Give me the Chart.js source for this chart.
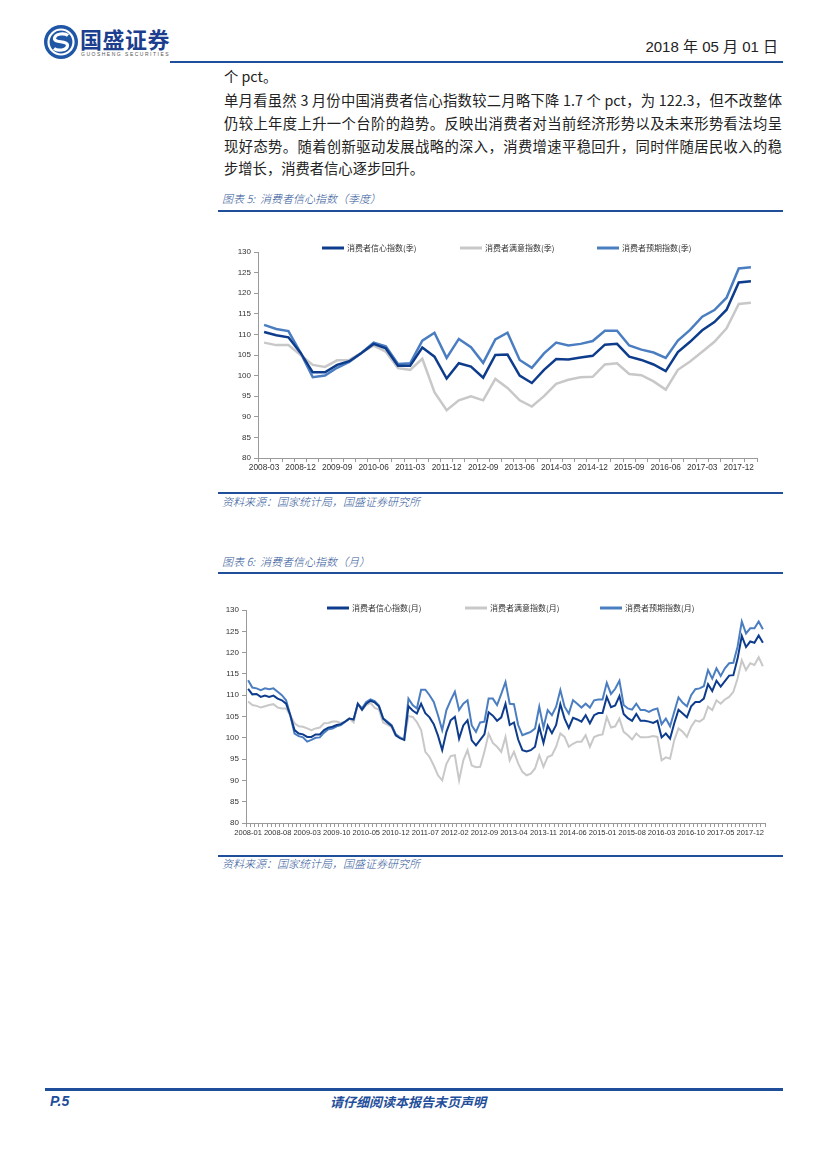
<!DOCTYPE html>
<html>
<head>
<meta charset="utf-8">
<script src="https://cdn.jsdelivr.net/npm/chart.js@4.4.1/dist/chart.umd.min.js"></script>
<style>
  body { margin: 0; background: #fff; }
  #page { position: relative; width: 827px; height: 1169px; background: #fff; overflow: hidden;
          font-family: "Noto Sans CJK SC", "Liberation Sans", sans-serif; color: #222; }
  .abs { position: absolute; }
  .rule { position: absolute; background: #1F4E9A; }
  .para { position: absolute; left: 224px; width: 558px; height: 23px; line-height: 23px; font-size: 14.3px;
          text-align: justify; text-align-last: justify; white-space: nowrap; }
  .para.last { text-align-last: left; }
  .cap { position: absolute; left: 222px; font-size: 11px; font-style: italic; font-weight: 300; color: #2F5597; line-height: 14px; }
  canvas { position: absolute; }
</style>
</head>
<body>
<div id="page">
  <svg class="abs" style="left:43px;top:24px" width="36" height="36" viewBox="0 0 36 36">
    <circle cx="18" cy="18" r="17" fill="#1F56A6"/>
    <circle cx="18" cy="18" r="12.5" fill="none" stroke="#fff" stroke-width="2.2"/>
    <path d="M25 11.5 C22 9 12 9 11.5 14.5 C11 19 25 16.5 24.5 21.5 C24 27 14 27 11 24.5" fill="none" stroke="#fff" stroke-width="3.2"/>
  </svg>
  <div class="abs" style="left:80px;top:25px;font-size:22px;font-weight:bold;color:#1B3E8E;line-height:26px;letter-spacing:0.5px">国盛证券</div>
  <div class="abs" style="left:81px;top:51px;font-size:5px;letter-spacing:1.5px;color:#555;line-height:6px;font-family:'Liberation Sans'">GUOSHENG SECURITIES</div>
  <div class="abs" style="right:49px;top:37px;font-size:15px;line-height:20px;color:#222;font-family:'Liberation Sans Narrow','Liberation Sans','Noto Sans CJK SC'">2018 年 05 月 01 日</div>
  <div class="rule" style="left:170px;top:61px;width:613px;height:2px"></div>

  <div class="para last" style="top:64px">个 pct。</div>
  <div class="para" style="top:88px">单月看虽然 3 月份中国消费者信心指数较二月略下降 1.7 个 pct，为 122.3，但不改整体</div>
  <div class="para" style="top:111px">仍较上年度上升一个台阶的趋势。反映出消费者对当前经济形势以及未来形势看法均呈</div>
  <div class="para" style="top:134px">现好态势。随着创新驱动发展战略的深入，消费增速平稳回升，同时伴随居民收入的稳</div>
  <div class="para last" style="top:156px">步增长，消费者信心逐步回升。</div>

  <div class="cap" style="top:191px">图表 5:&nbsp; 消费者信心指数（季度）</div>
  <div class="rule" style="left:218px;top:210px;width:565px;height:2px"></div>
  <canvas id="qChart" width="565" height="250" style="left:218px;top:232px"></canvas>
  <div class="rule" style="left:218px;top:492px;width:565px;height:2px"></div>
  <div class="cap" style="top:494px">资料来源：国家统计局，国盛证券研究所</div>

  <div class="cap" style="top:554px">图表 6:&nbsp; 消费者信心指数（月）</div>
  <div class="rule" style="left:218px;top:572px;width:565px;height:2px"></div>
  <canvas id="mChart" width="565" height="256" style="left:218px;top:592px"></canvas>
  <div class="rule" style="left:218px;top:855px;width:565px;height:2px"></div>
  <div class="cap" style="top:856px">资料来源：国家统计局，国盛证券研究所</div>

  <div class="rule" style="left:45px;top:1088px;width:738px;height:3px"></div>
  <div class="abs" style="left:50px;top:1092px;font-size:14px;font-weight:bold;font-style:italic;color:#1F4E9A;line-height:18px;font-family:'Liberation Sans'">P.5</div>
  <div class="abs" style="left:330px;top:1093px;font-size:13px;font-weight:bold;font-style:italic;color:#1F4E9A;line-height:17px">请仔细阅读本报告末页声明</div>
</div>

<script>
// 季度数据
const quarters = [
  "2008-03","2008-06","2008-09","2008-12","2009-03","2009-06","2009-09","2009-12",
  "2010-03","2010-06","2010-09","2010-12","2011-03","2011-06","2011-09","2011-12",
  "2012-03","2012-06","2012-09","2012-12","2013-03","2013-06","2013-09","2013-12",
  "2014-03","2014-06","2014-09","2014-12","2015-03","2015-06","2015-09","2015-12",
  "2016-03","2016-06","2016-09","2016-12","2017-03","2017-06","2017-09","2017-12","2018-03"
];
const qConfidence = [110.6,109.8,109.3,105.5,100.8,100.8,102.6,103.5,105.5,107.7,106.6,102.4,102.4,106.8,104.6,99.3,
  103.0,102.2,99.5,105.0,105.1,100.0,98.2,101.4,104.0,103.9,104.4,104.8,107.5,107.7,104.6,103.8,
  102.7,101.1,105.7,108.2,111.0,113.0,116.0,122.6,122.9];
const qSatisfaction = [108.0,107.4,107.4,105.0,102.6,102.1,103.7,103.8,105.5,107.3,105.8,101.8,101.4,104.1,96.0,91.6,
  94.0,95.0,94.0,99.2,97.0,94.0,92.5,95.0,98.0,99.0,99.6,99.7,102.7,103.0,100.4,100.1,
  98.6,96.6,101.4,103.4,105.8,108.2,111.5,117.4,117.7];
const qExpectation = [112.3,111.3,110.8,105.5,99.6,100.0,101.9,103.3,105.5,108.0,107.1,102.8,103.0,108.5,110.4,104.3,
  108.9,106.9,103.1,108.8,110.4,103.8,101.9,105.4,108.0,107.3,107.7,108.4,110.9,110.9,107.3,106.3,
  105.6,104.3,108.5,111.1,114.3,115.9,118.9,126.0,126.3];

// 月度数据
const months = [
  "2008-01","2008-02","2008-03","2008-04","2008-05","2008-06","2008-07","2008-08","2008-09","2008-10","2008-11","2008-12",
  "2009-01","2009-02","2009-03","2009-04","2009-05","2009-06","2009-07","2009-08","2009-09","2009-10","2009-11","2009-12",
  "2010-01","2010-02","2010-03","2010-04","2010-05","2010-06","2010-07","2010-08","2010-09","2010-10","2010-11","2010-12",
  "2011-01","2011-02","2011-03","2011-04","2011-05","2011-06","2011-07","2011-08","2011-09","2011-10","2011-11","2011-12",
  "2012-01","2012-02","2012-03","2012-04","2012-05","2012-06","2012-07","2012-08","2012-09","2012-10","2012-11","2012-12",
  "2013-01","2013-02","2013-03","2013-04","2013-05","2013-06","2013-07","2013-08","2013-09","2013-10","2013-11","2013-12",
  "2014-01","2014-02","2014-03","2014-04","2014-05","2014-06","2014-07","2014-08","2014-09","2014-10","2014-11","2014-12",
  "2015-01","2015-02","2015-03","2015-04","2015-05","2015-06","2015-07","2015-08","2015-09","2015-10","2015-11","2015-12",
  "2016-01","2016-02","2016-03","2016-04","2016-05","2016-06","2016-07","2016-08","2016-09","2016-10","2016-11","2016-12",
  "2017-01","2017-02","2017-03","2017-04","2017-05","2017-06","2017-07","2017-08","2017-09","2017-10","2017-11","2017-12",
  "2018-01","2018-02","2018-03"
];
const mConfidence = [
  111.5,110.2,110.3,109.6,109.9,109.6,109.9,109.2,108.8,108.0,105.3,101.8,
  101.0,100.8,100.2,100.2,100.8,100.8,101.8,102.4,102.6,103.0,103.2,103.8,
  104.5,104.3,108.0,106.6,108.0,108.7,108.3,107.4,104.5,103.6,102.8,100.6,
  99.9,99.5,107.4,106.4,105.7,108.0,105.8,104.8,103.2,100.5,97.1,101.4,
  104.1,104.9,99.8,102.9,104.1,99.4,98.2,99.5,100.8,106.0,105.2,104.0,
  104.8,108.0,103.0,103.6,99.6,97.1,96.8,97.1,97.9,102.6,98.8,102.9,
  101.1,103.0,107.9,104.5,102.3,104.7,104.3,103.8,105.3,103.4,105.3,105.8,
  105.8,109.6,107.2,107.6,109.8,105.6,104.6,104.0,105.6,104.0,104.0,103.8,
  103.5,104.0,100.1,101.0,99.8,103.4,106.6,105.7,104.8,107.4,108.4,108.4,
  109.2,112.6,111.0,113.4,112.0,113.3,114.6,114.7,118.6,123.9,121.3,122.6,
  122.3,124.0,122.3
];
const mSatisfaction = [
  108.5,107.7,107.5,107.1,107.4,107.7,107.9,107.1,106.9,106.9,105.3,103.4,
  102.7,102.6,102.2,101.8,102.2,102.4,103.4,103.5,103.8,103.8,103.5,103.8,
  104.5,103.6,108.0,106.5,107.7,108.2,107.0,106.6,103.6,103.1,102.5,100.5,
  100.0,99.5,105.1,104.9,103.7,101.8,96.7,95.5,93.5,91.2,90.0,93.9,
  95.7,95.9,90.0,94.7,97.1,93.5,93.1,93.2,96.7,101.0,98.8,97.9,
  96.7,100.2,94.7,96.7,94.0,92.0,91.2,91.6,92.8,95.9,93.2,95.5,
  95.9,97.9,101.0,100.2,97.9,98.6,99.1,99.1,100.6,97.9,100.2,100.6,
  100.8,104.9,102.4,102.7,104.5,101.4,100.6,99.6,101.0,100.1,100.1,100.2,
  100.4,100.2,94.7,95.4,95.1,99.5,102.2,101.4,100.2,102.6,104.1,103.8,
  104.5,107.3,106.5,108.8,108.0,109.0,109.6,110.8,113.9,118.2,115.9,117.5,
  117.1,118.9,116.8
];
const mExpectation = [
  113.5,111.8,111.6,111.2,111.6,111.4,111.6,110.8,110.0,108.8,105.3,101.0,
  100.4,100.1,99.1,99.5,100.0,100.1,101.2,102.0,102.2,102.7,103.0,103.8,
  104.5,104.2,108.0,106.9,108.4,109.0,108.6,107.6,104.6,103.8,103.0,100.8,
  100.1,99.6,109.2,107.7,106.9,111.3,111.3,110.0,108.4,105.3,101.8,106.5,
  108.8,110.8,106.5,108.0,108.8,102.9,101.4,103.6,103.8,109.2,109.2,107.7,
  110.3,113.1,108.0,107.9,103.0,100.6,101.0,101.4,102.2,107.3,102.4,106.5,
  105.3,107.3,111.2,107.3,105.7,108.8,108.0,107.1,108.0,107.1,108.8,109.0,
  109.0,112.9,110.3,111.5,113.4,107.7,106.9,106.6,108.0,106.5,106.5,106.1,
  106.6,106.9,103.2,104.5,102.7,106.1,109.5,108.2,107.4,110.0,111.4,111.6,
  112.1,115.9,113.9,116.3,114.5,116.3,117.5,117.6,121.4,127.3,124.5,125.7,
  125.7,127.3,125.5
];

const DARK = "#0E3C8C", GRAY = "#C8C8C8", LIGHT = "#4B7EC1";
const AXIS = "#9A9A9A";

// 图例：线段 + 文字，位置固定
const lineLegend = {
  id: "lineLegend",
  afterDraw(chart, args, opts) {
    const ctx = chart.ctx;
    ctx.save();
    ctx.font = "8px 'Noto Sans CJK SC'";
    ctx.textBaseline = "middle";
    chart.data.datasets.forEach((ds, i) => {
      const x = opts.xs[i], y = opts.y;
      ctx.strokeStyle = ds.borderColor;
      ctx.lineWidth = 3;
      ctx.beginPath();
      ctx.moveTo(x, y);
      ctx.lineTo(x + 22, y);
      ctx.stroke();
      ctx.fillStyle = "#333";
      ctx.fillText(ds.label, x + 25, y);
    });
    ctx.restore();
  }
};

function makeChart(id, labels, series, names, cfg) {
  return new Chart(document.getElementById(id), {
    type: "line",
    data: {
      labels: labels,
      datasets: series.map((d, i) => ({
        label: names[i],
        data: d,
        borderColor: [DARK, GRAY, LIGHT][i],
        backgroundColor: [DARK, GRAY, LIGHT][i],
        borderWidth: cfg.lw,
        pointRadius: 0,
        tension: 0
      }))
    },
    options: {
      responsive: false,
      animation: false,
      layout: { padding: { left: 0, right: cfg.padRight, top: cfg.padTop, bottom: 0 } },
      plugins: {
        legend: { display: false },
        tooltip: { enabled: false },
        lineLegend: { xs: cfg.legendXs, y: 16 }
      },
      scales: {
        x: {
          offset: true,
          afterFit: s => { s.height = cfg.xHeight; },
          grid: { offset: true, drawOnChartArea: false, drawTicks: true, tickLength: 4, color: AXIS },
          border: { color: AXIS },
          ticks: {
            autoSkip: false, maxRotation: 0, padding: 1, color: "#333",
            font: { family: "Liberation Sans", size: cfg.xFont },
            callback: (v, i) => (i % cfg.every === 0 && i < labels.length - 1) ? labels[i] : ""
          }
        },
        y: {
          min: 80, max: 130,
          afterFit: s => { s.width = cfg.yWidth; },
          grid: { drawOnChartArea: false, drawTicks: true, tickLength: 4, color: AXIS },
          border: { color: AXIS },
          ticks: { stepSize: 5, padding: 3, color: "#333", font: { family: "Liberation Sans", size: 8 } }
        }
      }
    },
    plugins: [lineLegend]
  });
}

makeChart("qChart", quarters, [qConfidence, qSatisfaction, qExpectation],
  ["消费者信心指数(季)", "消费者满意指数(季)", "消费者预期指数(季)"],
  { lw: 2.5, padRight: 26, padTop: 20, xHeight: 24, yWidth: 40, xFont: 8.3, every: 3, legendXs: [104, 242, 379] });

makeChart("mChart", months, [mConfidence, mSatisfaction, mExpectation],
  ["消费者信心指数(月)", "消费者满意指数(月)", "消费者预期指数(月)"],
  { lw: 2, padRight: 18, padTop: 18, xHeight: 25, yWidth: 28, xFont: 7.5, every: 7, legendXs: [109, 247, 382] });
</script>
</body>
</html>
